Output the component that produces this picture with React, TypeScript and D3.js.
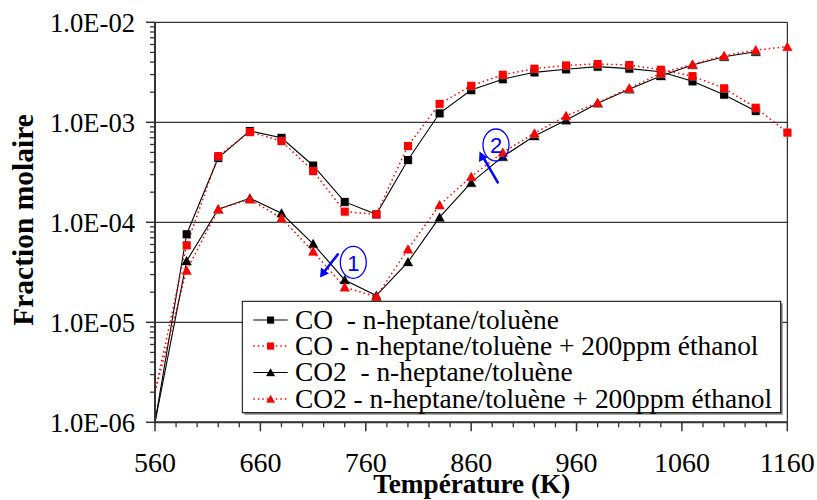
import React from "react";
import * as d3 from "d3";

const temps = [560, 590, 620, 650, 680, 710, 740, 770, 800, 830, 860, 890, 920, 950, 980, 1010, 1040, 1070, 1100, 1130, 1160];

const coBase: (number | null)[] = [1.0e-6, 7.6e-5, 4.4e-4, 8.2e-4, 7.0e-4, 3.7e-4, 1.6e-4, 1.2e-4, 4.2e-4, 1.23e-3, 2.1e-3, 2.7e-3, 3.16e-3, 3.39e-3, 3.6e-3, 3.44e-3, 3.2e-3, 2.57e-3, 1.89e-3, 1.3e-3, null];
const coEth: (number | null)[] = [2.0e-6, 5.9e-5, 4.6e-4, 8.0e-4, 6.5e-4, 3.26e-4, 1.28e-4, 1.2e-4, 5.8e-4, 1.53e-3, 2.32e-3, 2.99e-3, 3.44e-3, 3.71e-3, 3.83e-3, 3.74e-3, 3.36e-3, 2.9e-3, 2.19e-3, 1.4e-3, 7.9e-4];
const co2Base: (number | null)[] = [1.0e-6, 4.1e-5, 1.35e-4, 1.74e-4, 1.23e-4, 6.1e-5, 2.65e-5, 1.85e-5, 4.0e-5, 1.12e-4, 2.49e-4, 4.53e-4, 7.3e-4, 1.05e-3, 1.55e-3, 2.14e-3, 2.9e-3, 3.74e-3, 4.53e-3, 5.08e-3, null];
const co2Eth: (number | null)[] = [2.0e-6, 3.3e-5, 1.35e-4, 1.7e-4, 1.1e-4, 5.1e-5, 2.24e-5, 1.8e-5, 5.37e-5, 1.49e-4, 2.86e-4, 5.0e-4, 7.76e-4, 1.16e-3, 1.57e-3, 2.19e-3, 3.09e-3, 3.8e-3, 4.64e-3, 5.28e-3, 5.7e-3];

const seriesNames = [
  "CO  - n-heptane/toluène",
  "CO - n-heptane/toluène + 200ppm éthanol",
  "CO2  - n-heptane/toluène",
  "CO2 - n-heptane/toluène + 200ppm éthanol",
];
const xTicks = [560, 660, 760, 860, 960, 1060, 1160];
const yTicks = [1e-6, 1e-5, 1e-4, 1e-3, 1e-2];
const yTickLabels = ["1.0E-06", "1.0E-05", "1.0E-04", "1.0E-03", "1.0E-02"];
const xTitle = "Température (K)";
const yTitle = "Fraction molaire";

const FONT = "'Liberation Serif', 'Times New Roman', serif";

type S = { values: (number | null)[]; color: string; dashed: boolean; marker: "square" | "triangle" };
const series: S[] = [
  { values: coBase, color: "#000000", dashed: false, marker: "square" },
  { values: coEth, color: "#ff0000", dashed: true, marker: "square" },
  { values: co2Base, color: "#000000", dashed: false, marker: "triangle" },
  { values: co2Eth, color: "#ff0000", dashed: true, marker: "triangle" },
];

function Marker({ kind, x, y, color, size = 8 }: { kind: string; x: number; y: number; color: string; size?: number }) {
  const h = size / 2;
  if (kind === "square") {
    return (
      <g>
        <rect x={x - h + 0.7} y={y - h + 0.7} width={size} height={size} fill="#999" opacity={0.6} />
        <rect x={x - h} y={y - h} width={size} height={size} fill={color} />
      </g>
    );
  }
  const t = h * 1.25;
  const p = (dx: number, dy: number) =>
    `M${x + dx},${y - t + dy} L${x + t + dx},${y + h + dy} L${x - t + dx},${y + h + dy} Z`;
  return (
    <g>
      <path d={p(0.7, 0.7)} fill="#999" opacity={0.6} />
      <path d={p(0, 0)} fill={color} />
    </g>
  );
}

export default function App() {
  const W = 817, H = 500;
  const x0 = 155, x1 = 787.3, yTop = 22.3, yBot = 422.3;
  const x = d3.scaleLinear().domain([560, 1160]).range([x0, x1]);
  const y = d3.scaleLog().domain([1e-6, 1e-2]).range([yBot, yTop]);

  const minorX = d3.range(560, 1161, 20).filter((v) => (v - 560) % 100 !== 0);
  const minorY: number[] = [];
  for (let e = -6; e < -2; e++) for (let m = 2; m <= 9; m++) minorY.push(m * Math.pow(10, e));

  const line = d3
    .line<[number, number | null]>()
    .defined((d) => d[1] != null)
    .x((d) => x(d[0]))
    .y((d) => y(d[1] as number));

  const legX = 242.3, legY = 301.3, legW = 538.4, legH = 111.4;
  const rowY = [320, 346, 372.5, 399];

  return (
    <svg width={W} height={H} style={{ position: "absolute", left: 0, top: 0, background: "#fff" }} fontFamily={FONT}>
      <defs>
        <clipPath id="plot">
          <rect x={x0} y={yTop} width={x1 - x0} height={yBot - yTop} />
        </clipPath>
      </defs>
      {/* grid lines */}
      {yTicks.map((t) => (
        <line key={t} x1={x0} x2={x1} y1={y(t)} y2={y(t)} stroke="#000" strokeWidth={1} />
      ))}
      <line x1={x1} x2={x1} y1={yTop} y2={yBot} stroke="#000" strokeWidth={1} />

      {/* series */}
      <g clipPath="url(#plot)">
        {series.map((s, i) => (
          <path
            key={i}
            d={line(temps.map((t, j) => [t, s.values[j]] as [number, number | null])) || ""}
            fill="none"
            stroke={s.color}
            strokeWidth={s.dashed ? 1.5 : 1.1}
            strokeDasharray={s.dashed ? "1.5,3" : undefined}
          />
        ))}
      </g>
      {series.map((s, i) => (
        <g key={i}>
          {temps.map((t, j) =>
            s.values[j] != null && j > 0 ? (
              <Marker key={j} kind={s.marker} x={x(t)} y={y(s.values[j] as number)} color={s.color} />
            ) : null
          )}
        </g>
      ))}

      {/* axes */}
      <line x1={x0} x2={x0} y1={yTop} y2={yBot + 1} stroke="#333" strokeWidth={2} />
      <line x1={x0 - 1} x2={x1} y1={yBot} y2={yBot} stroke="#333" strokeWidth={2} />
      {yTicks.map((t, i) => (
        <g key={t}>
          <line x1={x0 - 9} x2={x0} y1={y(t)} y2={y(t)} stroke="#333" strokeWidth={1.5} />
          <text x={135} y={y(t) + 10} textAnchor="end" fontSize={26.6} fill="#000">
            {yTickLabels[i]}
          </text>
        </g>
      ))}
      {minorY.map((t) => (
        <line key={t} x1={x0 - 5} x2={x0} y1={y(t)} y2={y(t)} stroke="#333" strokeWidth={1.3} />
      ))}
      {xTicks.map((t) => (
        <g key={t}>
          <line x1={x(t)} x2={x(t)} y1={yBot} y2={yBot + 9} stroke="#333" strokeWidth={1.5} />
          <text x={x(t)} y={472.3} textAnchor="middle" fontSize={28} fill="#000">
            {t}
          </text>
        </g>
      ))}
      {minorX.map((t) => (
        <line key={t} x1={x(t)} x2={x(t)} y1={yBot} y2={yBot + 5} stroke="#333" strokeWidth={1.3} />
      ))}

      {/* titles */}
      <text x={471.7} y={493} textAnchor="middle" fontSize={27.2} fontWeight="bold" fill="#000">
        {xTitle}
      </text>
      <text transform={`translate(33,220) rotate(-90)`} textAnchor="middle" fontSize={29.5} fontWeight="bold" fill="#000">
        {yTitle}
      </text>

      {/* annotations */}
      <g stroke="#0000ff" fill="none">
        <ellipse cx={353.3} cy={262.3} rx={13} ry={16} strokeWidth={1.3} />
        <ellipse cx={496} cy={145} rx={13} ry={16} strokeWidth={1.3} />
        <line x1={338.5} y1={253.5} x2={324} y2={272} strokeWidth={2.5} />
        <path d="M320,277.5 L321,267.5 L329,273.5 Z" fill="#0000ff" stroke="none" />
        <line x1={498.3} y1={183.3} x2={483} y2={157} strokeWidth={2.5} />
        <path d="M479.5,151.5 L479,162 L487.5,157.5 Z" fill="#0000ff" stroke="none" />
      </g>
      <text x={353.3} y={270.5} textAnchor="middle" fontSize={22} fontFamily="'Liberation Sans', Arial, sans-serif" fill="#0000ff">1</text>
      <text x={496} y={153} textAnchor="middle" fontSize={22} fontFamily="'Liberation Sans', Arial, sans-serif" fill="#0000ff">2</text>

      {/* legend */}
      <rect x={legX + 2} y={legY + 2} width={legW} height={legH} fill="#888" />
      <rect x={legX} y={legY} width={legW} height={legH} fill="#fff" stroke="#000" strokeWidth={1} />
      {series.map((s, i) => (
        <g key={i}>
          <line
            x1={253.3}
            x2={287.7}
            y1={rowY[i]}
            y2={rowY[i]}
            stroke={s.color}
            strokeWidth={s.dashed ? 1.5 : 1.1}
            strokeDasharray={s.dashed ? "1.5,3" : undefined}
          />
          <Marker kind={s.marker} x={270.5} y={rowY[i]} color={s.color} size={7} />
          <text x={295} y={rowY[i] + 8.5} fontSize={27.4} fill="#000" style={{ whiteSpace: "pre" }}>
            {seriesNames[i]}
          </text>
        </g>
      ))}
    </svg>
  );
}
